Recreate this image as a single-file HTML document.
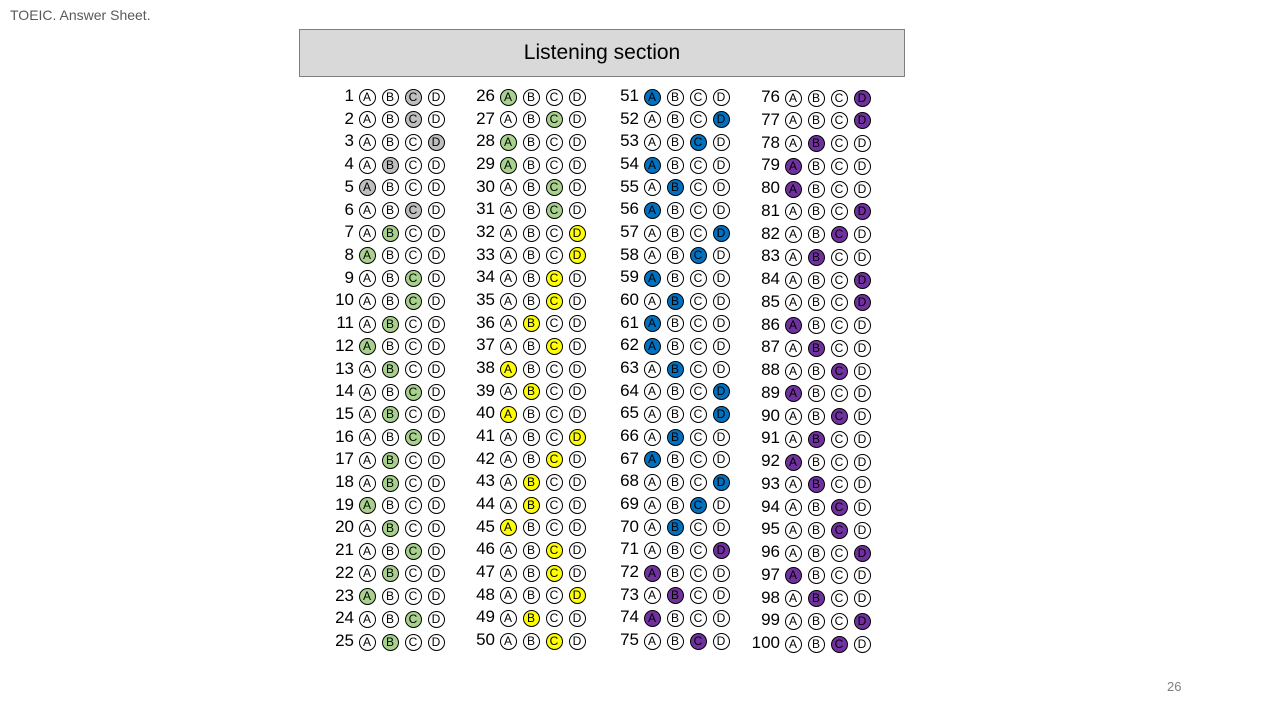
<!DOCTYPE html>
<html><head><meta charset="utf-8">
<style>
body{margin:0;width:1280px;height:720px;background:#fff;position:relative;overflow:hidden;font-family:"Liberation Sans",sans-serif}
.t{position:absolute;left:10px;top:7px;font-size:14px;color:#595959}
.hdr{position:absolute;left:299px;top:29px;width:604px;height:46px;background:#d9d9d9;border:1px solid #7f7f7f;font-size:21px;text-align:center;line-height:46px;color:#000}
.pg{position:absolute;left:1167px;top:679px;font-size:13px;color:#7f7f7f}
.num{position:absolute;font-size:17px;line-height:20px;color:#000;text-align:right;width:40px}
.b{position:absolute;width:15px;height:15px;border:1px solid #000;border-radius:50%;font-size:12px;line-height:15px;text-align:center;color:#000;box-sizing:content-box}
</style></head><body>
<div class="t">TOEIC. Answer Sheet.</div>
<div class="hdr">Listening section</div>
<div class="pg">26</div>
<div id="sheet"></div>
<script>
const answers = "CCDBACBACCBABCBCBBABCBACB"+"ACAACCDDCCBCABADCBBACCDBC"+"ADCABADCABAABDDBADCBDABAC"+"DDBAADCBDDABCACBABCCDABDC";
const groups = "GGGGGG"+"NNNNNNNNNNNNNNNNNNN"+"NNNNNN"+"YYYYYYYYYYYYYYYYYYY"+"BBBBBBBBBBBBBBBBBBBB"+"PPPPP"+"PPPPPPPPPPPPPPPPPPPPPPPPP";
const palette = {G:"#bfbfbf",N:"#a9d18e",Y:"#ffff00",B:"#0070c0",P:"#7030a0"};
const letters = ["A","B","C","D"];
const colStarts = [1,26,51,76];
const sheet=document.getElementById('sheet');
const colX=[367,508,652,793], colY0=[97,97,97,98], colY1=[642,641,641,644];
for(let c=0;c<4;c++){
  for(let r=0;r<25;r++){
    const q=colStarts[c]+r, i=q-1;
    const y=colY0[c]+(colY1[c]-colY0[c])*r/24;
    const n=document.createElement('div');
    n.className='num';n.textContent=q;
    n.style.left=(colX[c]-53)+'px';n.style.top=(y-11)+'px';
    
    
    sheet.appendChild(n);
    for(let k=0;k<4;k++){
      const b=document.createElement('div');
      b.className='b';b.textContent=letters[k];
      b.style.left=(colX[c]+k*23-8.5)+'px';b.style.top=(y-8.5)+'px';
      if(answers[i]===letters[k]){b.style.background=palette[groups[i]];}
      
      
      sheet.appendChild(b);
    }
  }
}
</script>
</body></html>
